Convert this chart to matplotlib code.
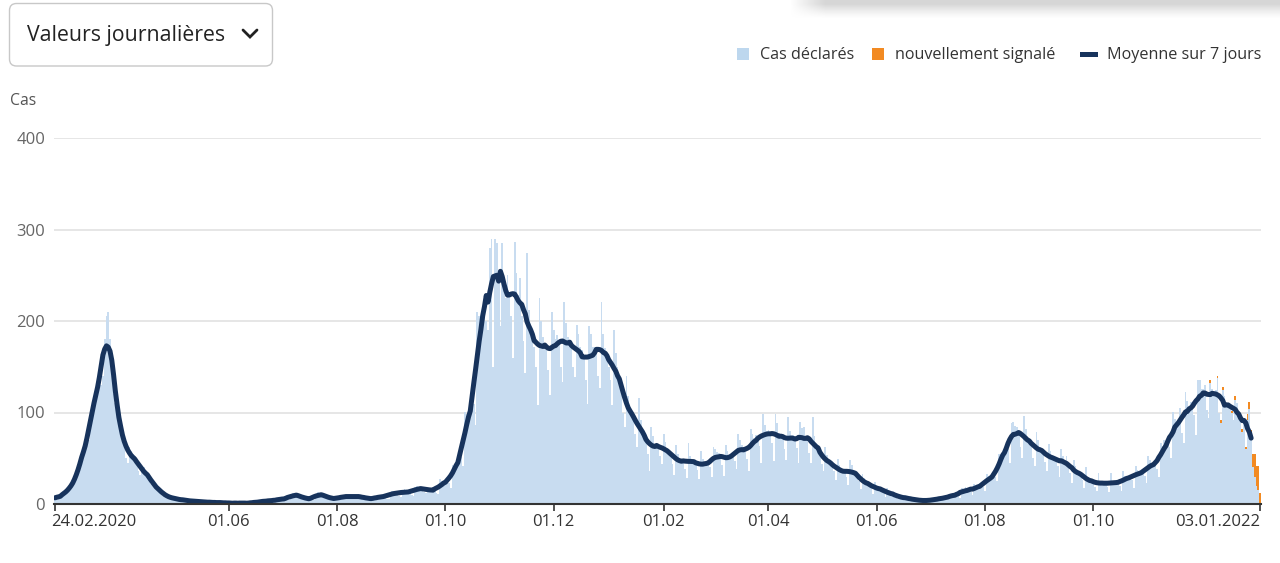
import numpy as np
import pandas as pd
import matplotlib
matplotlib.use("Agg")
import matplotlib.pyplot as plt
import matplotlib.transforms as mtransforms
from matplotlib.patches import FancyBboxPatch, Rectangle
from matplotlib.lines import Line2D

plt.rcParams['font.family'] = ['Open Sans', 'DejaVu Sans']

# ─── data: daily reported cases, one row per week (Mon..Sun) ─────────────────
start = "2020-02-24"
cas_declares = [
    4, 6, 8, 9, 10, 10, 12,
    16, 16, 19, 22, 26, 28, 34,
    45, 50, 58, 66, 75, 70, 80,
    105, 118, 125, 135, 140, 130, 140,
    180, 205, 210, 180, 165, 120, 110,
    110, 95, 85, 75, 68, 50, 45,
    62, 58, 55, 52, 48, 36, 32,
    42, 40, 36, 34, 30, 22, 20,
    22, 20, 18, 15, 13, 9, 8,
    9, 9, 8, 7, 6, 4, 4,
    6, 6, 5, 4, 4, 3, 2,
    4, 4, 3, 3, 3, 2, 1,
    3, 3, 2, 2, 2, 1, 1,
    2, 2, 2, 1, 2, 1, 0,
    1, 2, 1, 1, 1, 0, 1,
    1, 1, 2, 1, 1, 0, 0,
    2, 3, 3, 3, 2, 1, 2,
    4, 5, 4, 4, 4, 2, 3,
    6, 6, 7, 6, 6, 4, 4,
    11, 12, 11, 10, 10, 7, 7,
    7, 7, 6, 6, 6, 4, 4,
    11, 13, 12, 11, 10, 7, 7,
    7, 8, 7, 6, 6, 4, 4,
    9, 10, 9, 9, 8, 6, 6,
    9, 10, 9, 9, 8, 6, 6,
    7, 7, 7, 6, 6, 4, 4,
    9, 10, 9, 9, 8, 6, 6,
    13, 14, 13, 13, 12, 9, 8,
    15, 16, 15, 14, 13, 10, 9,
    19, 20, 19, 18, 17, 13, 12,
    17, 18, 17, 16, 15, 12, 11,
    27, 25, 24, 25, 25, 23, 18,
    43, 41, 42, 47, 52, 51, 41,
    101, 98, 97, 105, 115, 109, 86,
    210, 205, 200, 215, 220, 200, 190,
    280, 290, 150, 290, 285, 255, 195,
    285, 245, 225, 250, 228, 205, 160,
    286, 252, 228, 247, 205, 178, 143,
    274, 212, 196, 186, 172, 150, 108,
    225, 200, 182, 176, 168, 146, 119,
    210, 190, 180, 185, 178, 150, 133,
    221, 198, 182, 178, 170, 150, 139,
    196, 186, 172, 168, 160, 135, 109,
    194, 186, 172, 172, 165, 140, 127,
    221, 186, 170, 165, 150, 135, 108,
    190, 165, 150, 140, 128, 100, 84,
    140, 118, 104, 98, 92, 76, 62,
    116, 92, 80, 77, 70, 55, 36,
    84, 74, 66, 66, 62, 52, 44,
    76, 68, 61, 59, 54, 44, 32,
    64, 55, 49, 48, 45, 38, 28,
    67, 53, 48, 47, 45, 37, 27,
    58, 49, 44, 45, 45, 40, 29,
    62, 60, 57, 56, 52, 43, 31,
    65, 58, 53, 52, 53, 47, 38,
    76, 70, 64, 62, 57, 49, 36,
    82, 76, 72, 75, 73, 63, 45,
    98, 86, 80, 81, 78, 67, 47,
    98, 88, 78, 76, 71, 60, 48,
    95, 80, 74, 75, 72, 61, 45,
    90, 83, 84, 74, 70, 56, 45,
    95, 74, 65, 60, 55, 44, 36,
    62, 54, 47, 46, 43, 36, 26,
    49, 43, 38, 37, 34, 29, 21,
    48, 43, 37, 35, 31, 25, 16,
    33, 28, 24, 23, 21, 17, 11,
    24, 20, 18, 17, 15, 13, 8,
    17, 14, 12, 11, 10, 8, 5,
    10, 9, 7, 7, 6, 5, 4,
    7, 6, 5, 4, 4, 3, 2,
    5, 5, 4, 4, 4, 4, 3,
    7, 7, 6, 6, 7, 6, 5,
    10, 10, 9, 11, 11, 9, 7,
    17, 15, 19, 15, 15, 13, 10,
    22, 20, 19, 20, 21, 19, 14,
    33, 31, 29, 31, 30, 29, 25,
    55, 52, 55, 61, 65, 60, 45,
    88, 90, 85, 84, 80, 62, 50,
    96, 82, 74, 72, 66, 50, 42,
    79, 70, 62, 60, 56, 46, 36,
    66, 58, 53, 51, 49, 41, 30,
    60, 52, 47, 52, 42, 34, 23,
    48, 41, 37, 35, 31, 26, 17,
    40, 30, 26, 25, 23, 19, 14,
    34, 25, 23, 23, 22, 19, 13,
    34, 25, 24, 24, 23, 20, 14,
    36, 31, 29, 30, 30, 26, 18,
    42, 37, 35, 36, 35, 31, 23,
    52, 48, 45, 46, 44, 38, 29,
    67, 63, 70, 66, 68, 62, 50,
    101, 93, 88, 90, 105, 78, 67,
    122, 113, 107, 112, 109, 97, 75,
    136, 135, 126, 126, 130, 103, 94,
    132, 126, 124, 125, 138, 100, 88,
    125, 118, 108, 106, 104, 100, 92,
    114, 110, 100, 98, 79, 88, 60,
    92, 104, 75, 40, 30, 20, 15,
    0,
]

# newly reported cases (stacked on top), from 29.11.2021 onwards
nouveaux_start = "2021-11-29"
nouveaux = [
    0, 0, 0, 0, 0, 0, 0,
    3, 0, 0, 0, 2, 0, 4,
    3, 0, 0, 0, 0, 2, 0,
    4, 0, 0, 0, 3, 0, 2,
    6, 7, 6, 15, 25, 22, 27,
    12,
]

avg_end = "2021-12-29"   # last day of the 7-day average

tick_dates = ["2020-02-24", "2020-06-01", "2020-08-01", "2020-10-01", "2020-12-01",
              "2021-02-01", "2021-04-01", "2021-06-01", "2021-08-01", "2021-10-01",
              "2022-01-03"]
tick_labels = ["24.02.2020", "01.06", "01.08", "01.10", "01.12", "01.02",
               "01.04", "01.06", "01.08", "01.10", "03.01.2022"]
y_ticks = [0, 100, 200, 300, 400]

# ─── series ───────────────────────────────────────────────────────────────────
dates = pd.date_range(start, periods=len(cas_declares), freq="D")
cas = pd.Series(cas_declares, index=dates, dtype=float)
new = pd.Series(0.0, index=dates)
new_idx = pd.date_range(nouveaux_start, periods=len(nouveaux), freq="D")
new.loc[new_idx] = nouveaux
total = cas + new
moyenne = total.rolling(7, center=True, min_periods=4).mean().loc[:avg_end]

# ─── figure ───────────────────────────────────────────────────────────────────
W, H = 1280, 563
fig = plt.figure(figsize=(W / 100, H / 100), dpi=100)
ax = fig.add_axes([54.1 / W, 59 / H, 1206.8 / W, 366 / H])

c_bar = "#c8dcf0"
c_new = "#f28a22"
c_line = "#17335c"

ax.bar(dates, cas.values, width=1.0, color=c_bar, linewidth=0, zorder=2)
ax.bar(dates, new.values, bottom=cas.values, width=1.0, color=c_new,
       linewidth=0, zorder=2)
ax.plot(moyenne.index, moyenne.values, color=c_line, lw=3.6,
        solid_capstyle="round", solid_joinstyle="round", zorder=3)

ax.set_xlim(dates[0] - pd.Timedelta(hours=12), dates[-1] + pd.Timedelta(hours=12))
ax.set_ylim(0, 400)

for s in ["top", "right", "left"]:
    ax.spines[s].set_visible(False)
ax.spines["bottom"].set_color("#333333")
ax.spines["bottom"].set_linewidth(1.5)
ax.spines["bottom"].set_zorder(4)

ax.set_yticks(y_ticks)
ax.set_yticklabels([str(v) for v in y_ticks])
ax.tick_params(axis="y", length=0, pad=6.5, labelsize=12, labelcolor="#666666")
ax.yaxis.grid(True, color="#e2e2e2", lw=1.2, zorder=0)
ax.set_axisbelow(True)

ax.set_xticks(pd.to_datetime(tick_dates))
ax.set_xticklabels(tick_labels)
ax.tick_params(axis="x", length=5, width=1.2, color="#333333", pad=2.5,
               labelsize=12, labelcolor="#333333")
labels = ax.get_xticklabels()
labels[0].set_ha("left")
labels[0].set_transform(labels[0].get_transform() +
                        mtransforms.ScaledTranslation(-4 / 100, 0, fig.dpi_scale_trans))
labels[-1].set_ha("right")

# ─── header & legend ──────────────────────────────────────────────────────────
def fx(x):
    return x / W

def fy(y):
    return 1 - y / H

box = FancyBboxPatch((9.5, H - 66), 263, 62.5, boxstyle="round,pad=0,rounding_size=7",
                     transform=None, facecolor="white", edgecolor="#c8c8c8", lw=1.0)
fig.add_artist(box)
fig.text(fx(27), fy(35), "Valeurs journalières", fontsize=15.3, color="#222222",
         va="center", ha="left")
fig.add_artist(Line2D([243, 250, 257], [H - 30, H - 37, H - 30], transform=None,
                      color="#222222", lw=2.0, solid_capstyle="round",
                      solid_joinstyle="miter"))

fig.text(fx(10), fy(101), "Cas", fontsize=11.3, color="#555555", va="center")

fig.add_artist(Rectangle((737, H - 60), 12, 12, transform=None,
                         facecolor="#bdd7ee", edgecolor="none"))
fig.text(fx(760), fy(55), "Cas déclarés", fontsize=11.6, color="#333333", va="center")
fig.add_artist(Rectangle((872, H - 60), 12, 12, transform=None,
                         facecolor=c_new, edgecolor="none"))
fig.text(fx(895), fy(55), "nouvellement signalé", fontsize=11.6, color="#333333",
         va="center")
fig.add_artist(Rectangle((1080, H - 57), 18, 5, transform=None,
                         facecolor=c_line, edgecolor="none"))
fig.text(fx(1107), fy(55), "Moyenne sur 7 jours", fontsize=11.6, color="#333333",
         va="center")

# soft grey shadow of the page card at the top right
sh = fig.add_axes([fx(790), fy(24), 490 / W, 24 / H])
gy = np.linspace(0, 1, 24)[:, None]
gx = np.linspace(0, 1, 490)[None, :]
img = np.zeros((24, 490, 4))
img[..., :3] = 0.84
img[..., 3] = np.clip(1.25 - gy * 1.6, 0, 1) ** 1.3 * np.clip(gx * 490 / 35, 0, 1)
sh.imshow(img, aspect="auto", interpolation="bilinear")
sh.axis("off")

fig.savefig("out.png", dpi=100)
